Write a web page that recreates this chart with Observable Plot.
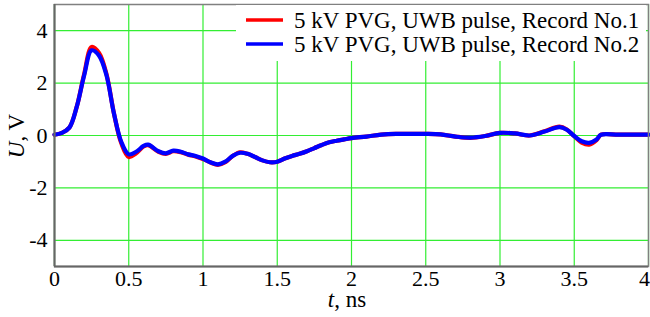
<!DOCTYPE html>
<html>
<head>
<meta charset="utf-8">
<script src="https://cdn.jsdelivr.net/npm/d3@7"></script>
<script src="https://cdn.jsdelivr.net/npm/@observablehq/plot@0.6"></script>
<style>
  html, body { margin: 0; padding: 0; background: #fff; }
  svg, svg text { font-family: "Liberation Serif", "Times New Roman", serif !important; }
</style>
</head>
<body>
<div id="chart"></div>
<script>
// Time axis, ns
const timeNs = [0, 0.05, 0.1, 0.15, 0.2, 0.25, 0.3, 0.35, 0.4, 0.45, 0.5, 0.55, 0.6, 0.63, 0.7, 0.75, 0.8, 0.85, 0.9, 0.95,
  1.0, 1.05, 1.1, 1.15, 1.2, 1.25, 1.3, 1.35, 1.4, 1.45, 1.5, 1.55, 1.6, 1.65, 1.7, 1.75, 1.8, 1.85, 1.9, 1.95,
  2.0, 2.1, 2.2, 2.3, 2.4, 2.5, 2.6, 2.7, 2.8, 2.9, 3.0, 3.1, 3.2, 3.3, 3.4, 3.45, 3.5, 3.55, 3.6, 3.65, 3.68, 3.8, 4.0];
// Record No.1 (red), V
const record1 = [0.03, 0.1, 0.3, 1.1, 2.35, 3.38, 3.15, 2.35, 0.85, -0.3, -0.82, -0.68, -0.42, -0.37, -0.62, -0.7, -0.6, -0.64, -0.73, -0.8,
  -0.9, -1.03, -1.12, -1.02, -0.78, -0.64, -0.7, -0.82, -0.95, -1.02, -1.0, -0.88, -0.78, -0.7, -0.6, -0.48, -0.36, -0.26, -0.2, -0.15,
  -0.1, -0.04, 0.03, 0.06, 0.06, 0.06, 0.04, -0.04, -0.09, -0.02, 0.1, 0.08, 0.0, 0.16, 0.34, 0.23, -0.03, -0.27, -0.35, -0.18, 0.03, 0.03, 0.03];
// Record No.2 (blue), V
const record2 = [0.03, 0.1, 0.3, 1.1, 2.3, 3.25, 3.05, 2.3, 0.85, -0.25, -0.72, -0.62, -0.4, -0.35, -0.6, -0.68, -0.58, -0.62, -0.72, -0.78,
  -0.88, -1.02, -1.1, -1.0, -0.78, -0.66, -0.7, -0.82, -0.95, -1.02, -1.0, -0.88, -0.78, -0.7, -0.6, -0.48, -0.36, -0.26, -0.2, -0.15,
  -0.1, -0.04, 0.03, 0.06, 0.06, 0.06, 0.04, -0.04, -0.08, -0.02, 0.1, 0.08, 0.0, 0.15, 0.32, 0.22, -0.02, -0.22, -0.28, -0.15, 0.03, 0.03, 0.03];
const seriesNames = ["5 kV PVG, UWB pulse, Record No.1", "5 kV PVG, UWB pulse, Record No.2"];
const seriesColors = ["#ff0000", "#0000ff"];
const xTicks = [0, 0.5, 1, 1.5, 2, 2.5, 3, 3.5, 4];
const xTickLabels = ["0", "0.5", "1", "1.5", "2", "2.5", "3", "3.5", "4"];
const yTicks = [-4, -2, 0, 2, 4];
const yTickLabels = ["-4", "-2", "0", "2", "4"];

const rows = [];
[record1, record2].forEach((rec, si) => {
  rec.forEach((v, i) => rows.push({t: timeNs[i], u: v, s: seriesNames[si]}));
});

const xFmt = d => xTickLabels[xTicks.indexOf(d)];
const yFmt = d => yTickLabels[yTicks.indexOf(d)];
const serif = "'Liberation Serif', 'Times New Roman', serif";

const plot = Plot.plot({
  width: 650,
  height: 317,
  marginLeft: 54,
  marginRight: 2,
  marginTop: 4,
  marginBottom: 51,
  style: {fontFamily: serif, fontSize: "22px", color: "#000", background: "#fff"},
  x: {domain: [0, 4]},
  y: {domain: [-5, 5]},
  color: {domain: seriesNames, range: seriesColors},
  marks: [
    Plot.gridX(xTicks, {stroke: "#33ee33", strokeOpacity: 1, strokeWidth: 1.2}),
    Plot.gridY(yTicks, {stroke: "#33ee33", strokeOpacity: 1, strokeWidth: 1.2}),
    Plot.line(rows, {x: "t", y: "u", z: "s", stroke: "s", strokeWidth: 4.2, curve: "catmull-rom"}),
    Plot.frame({stroke: "#808080", strokeWidth: 1.5}),
    Plot.ruleX([0], {stroke: "#666", strokeWidth: 2}),
    Plot.ruleY([-5], {stroke: "#666", strokeWidth: 2}),
    Plot.axisX(xTicks.slice(0, -1), {tickFormat: xFmt, tickSize: 0, tickPadding: 4, label: null, fontSize: 22}),
    Plot.axisX(xTicks.slice(-1), {tickFormat: xFmt, tickSize: 0, tickPadding: 4, label: null, fontSize: 22, dx: -4}),
    Plot.axisY(yTicks, {tickFormat: yFmt, tickSize: 0, tickPadding: 7, label: null, fontSize: 22})
  ]
});

const svg = d3.select(plot);
// Axis titles with italic variables
const xl = svg.append("text").attr("x", 347).attr("y", 307).attr("text-anchor", "middle")
  .attr("font-size", 23).attr("fill", "#000");
xl.append("tspan").attr("font-style", "italic").text("t");
xl.append("tspan").text(", ns");
const yl = svg.append("text").attr("transform", "translate(24,136) rotate(-90)").attr("text-anchor", "middle")
  .attr("font-size", 23).attr("fill", "#000");
yl.append("tspan").attr("font-style", "italic").text("U");
yl.append("tspan").text(", V");

// Legend box
const lg = svg.append("g").attr("text-anchor", "start");
lg.append("rect").attr("x", 236).attr("y", 5).attr("width", 410).attr("height", 56)
  .attr("style", "fill:#ffffff;stroke:none");
seriesNames.forEach((name, i) => {
  const y = 20 + i * 24;
  lg.append("line").attr("x1", 246).attr("x2", 283).attr("y1", y).attr("y2", y)
    .attr("style", `stroke:${seriesColors[i]};stroke-width:3.5`);
  lg.append("text").attr("x", 294).attr("y", y + 8).attr("text-anchor", "start")
    .attr("font-size", 23).attr("fill", "#000").text(name);
});

document.getElementById("chart").appendChild(plot);
</script>
</body>
</html>
